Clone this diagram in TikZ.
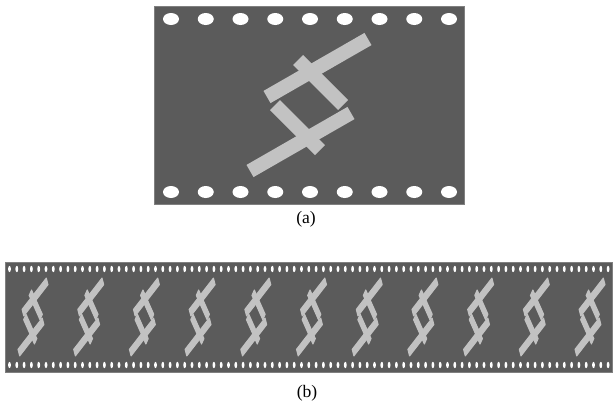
\documentclass[tikz,border=0pt]{standalone}
\usepackage{fontspec}
\setmainfont{Liberation Serif}
\definecolor{film}{HTML}{5B5B5B}
\definecolor{strip}{HTML}{C2C2C2}
\definecolor{rim}{HTML}{808080}

% two crossed bars and their mirror image, drawn around (0,0)
\newcommand{\barpair}{%
  \fill[bar] (-45.5,-14.1) -- (-38.5,-1.9) -- (62.5,-59.9) -- (55.5,-72.1) -- cycle;
  \fill[bar] (45.5,14.1) -- (38.5,1.9) -- (-62.5,59.9) -- (-55.5,72.1) -- cycle;
  \fill[bar] (-16,-40) -- (-6,-50) -- (39,-5) -- (29,5) -- cycle;
  \fill[bar] (16,40) -- (6,50) -- (-39,5) -- (-29,-5) -- cycle;
}

\begin{document}
\begin{tikzpicture}[
  x=0.03cm, y=-0.03cm,
  panel/.style={
    fill=film,
    draw=rim,
    line width=0.6pt
  },
  hole/.style={fill=white},
  bar/.style={fill=strip},
  smallbar/.style={bar/.style={fill=strip, draw=strip, line width=0.9pt, line join=round}},
  caption/.style={
    font=\fontsize{15}{17}\selectfont,
    inner sep=0pt
  }
]
\useasboundingbox (0,0) rectangle (614,415);

% (a) single cell
\draw[panel] (154,6) rectangle (464,204);
\foreach \i in {0,...,8} {
  \fill[hole] ({171+34.75*\i},19) ellipse [x radius=8, y radius=6];
  \fill[hole] ({171+34.75*\i},192) ellipse [x radius=8, y radius=6];
}
\begin{scope}[shift={(309,105)}]
  \barpair
\end{scope}
\node[caption] (lbla) at (306,219) {(a)};

% (b) strip of eleven cells
\draw[panel] (5,262) rectangle (612,372);
\foreach \i in {0,...,82} {
  \fill[hole] ({9.5+7.3*\i},269) ellipse [x radius=1.4, y radius=3.2];
  \fill[hole] ({9.5+7.3*\i},365) ellipse [x radius=1.4, y radius=3.2];
}
\foreach \k in {0,...,10} {
  \begin{scope}[smallbar, shift={({33+55.7*\k},317)}, xscale=0.24, yscale=0.54]
    \barpair
  \end{scope}
}
\node[caption] (lblb) at (307,393) {(b)};
\end{tikzpicture}
\end{document}
